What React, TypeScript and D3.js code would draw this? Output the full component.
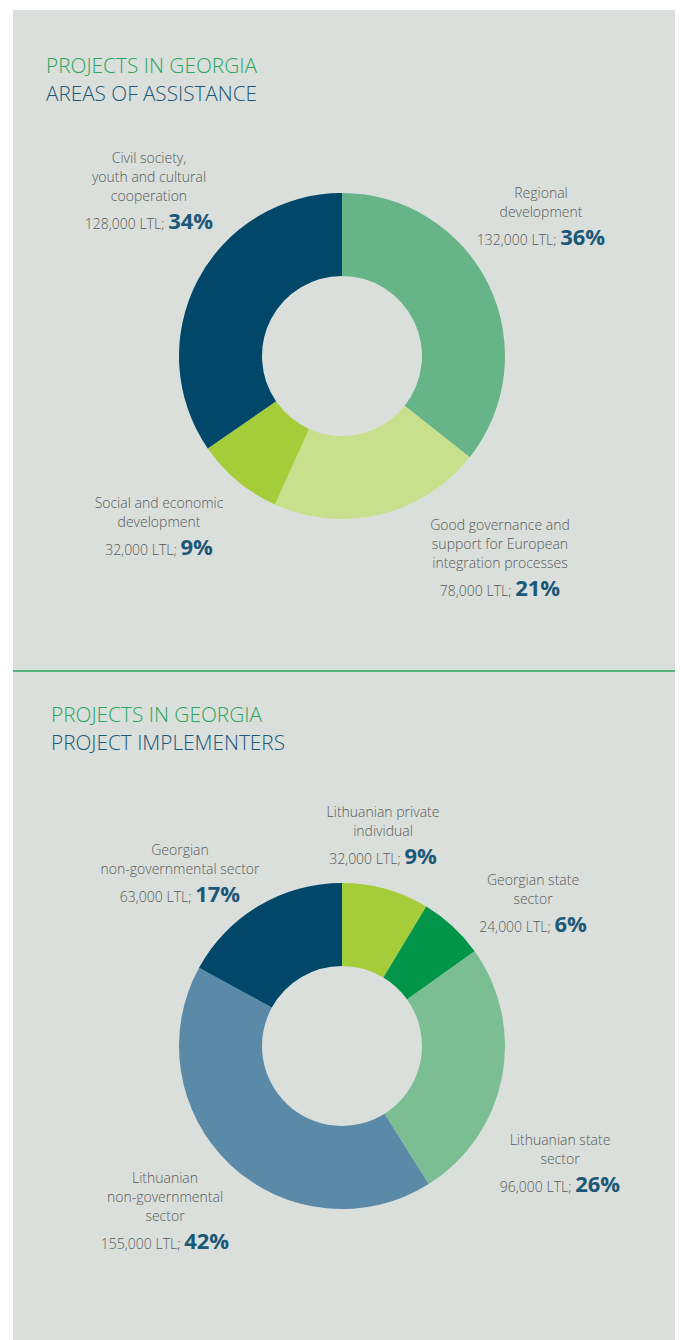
import React from 'react';
import * as d3 from 'd3';

// Areas of assistance (clockwise from 12 o'clock)
const areaNames = [
  'Regional|development',
  'Good governance and|support for European|integration processes',
  'Social and economic|development',
  'Civil society,|youth and cultural|cooperation',
];
const areaValues = [132000, 78000, 32000, 128000];
const areaPercents = [36, 21, 9, 34];

// Project implementers (clockwise from 12 o'clock)
const implNames = [
  'Lithuanian private|individual',
  'Georgian state|sector',
  'Lithuanian state|sector',
  'Lithuanian|non-governmental|sector',
  'Georgian|non-governmental sector',
];
const implValues = [32000, 24000, 96000, 155000, 63000];
const implPercents = [9, 6, 26, 42, 17];

const areaColors = ['#66b487', '#c8df8b', '#a5cd39', '#00476a'];
const implColors = ['#a5cd39', '#009548', '#7bbe94', '#5b8aa8', '#00476a'];

// label anchor: centre x and baseline of the first line
const areaLabelPos = [
  { x: 541, y: 198 },
  { x: 500, y: 530 },
  { x: 159, y: 508 },
  { x: 149, y: 163 },
];
const implLabelPos = [
  { x: 383, y: 817 },
  { x: 533, y: 885 },
  { x: 560, y: 1145 },
  { x: 165, y: 1183 },
  { x: 180, y: 855 },
];

const W = 680;
const H = 1340;
const BG = '#dadfdb';
const GREEN = '#2aa660';
const TEAL = '#1c5878';
const GREY = '#575b59';
const FONT = '"Open Sans", "DejaVu Sans", sans-serif';

const fmt = d3.format(',');

type Pos = { x: number; y: number };

const Donut = ({ cx, cy, values, colors, names, percents, labelPos }: {
  cx: number; cy: number; values: number[]; colors: string[];
  names: string[]; percents: number[]; labelPos: Pos[];
}) => {
  const pie = d3.pie<number>().sort(null).value(d => d);
  const arc = d3.arc<d3.PieArcDatum<number>>().innerRadius(80).outerRadius(163);
  const arcs = pie(values);
  return (
    <g>
      <g transform={`translate(${cx},${cy})`}>
        {arcs.map((a, i) => (
          <path key={i} d={arc(a) || ''} fill={colors[i]} />
        ))}
      </g>
      {names.map((n, i) => {
        const lines = n.split('|');
        const p = labelPos[i];
        return (
          <g key={i} fontFamily={FONT} textAnchor="middle">
            {lines.map((l, j) => (
              <text key={j} x={p.x} y={p.y + j * 19} fontSize={14} fontWeight={300} fill={GREY}>{l}</text>
            ))}
            <text x={p.x} y={p.y + (lines.length - 1) * 19 + 28} fontSize={14} fontWeight={300} fill={GREY}>
              <tspan>{fmt(values[i])} LTL; </tspan>
              <tspan fontSize={22} fontWeight={700} fill={TEAL}>{percents[i]}%</tspan>
            </text>
          </g>
        );
      })}
    </g>
  );
};

const Title = ({ x, y, line1, line2, w1, w2 }: { x: number; y: number; line1: string; line2: string; w1: number; w2: number }) => (
  <g fontFamily={FONT} fontWeight={300} fontSize={21}>
    <text x={x} y={y} fill={GREEN} textLength={w1} lengthAdjust="spacingAndGlyphs">{line1}</text>
    <text x={x} y={y + 28} fill={TEAL} textLength={w2} lengthAdjust="spacingAndGlyphs">{line2}</text>
  </g>
);

export default function App() {
  return (
    <svg width={W} height={H} style={{ position: 'absolute', left: 0, top: 0, background: '#fff' }}>
      <rect x={13} y={10} width={662} height={H - 10} fill={BG} />
      <Title x={46} y={73} line1="PROJECTS IN GEORGIA" line2="AREAS OF ASSISTANCE" w1={211} w2={211} />
      <Donut cx={342} cy={356} values={areaValues} colors={areaColors} names={areaNames}
        percents={areaPercents} labelPos={areaLabelPos} />
      <line x1={13} x2={675} y1={671} y2={671} stroke={GREEN} strokeWidth={1.5} />
      <Title x={51} y={722} line1="PROJECTS IN GEORGIA" line2="PROJECT IMPLEMENTERS" w1={211} w2={234} />
      <Donut cx={342} cy={1046} values={implValues} colors={implColors} names={implNames}
        percents={implPercents} labelPos={implLabelPos} />
    </svg>
  );
}
